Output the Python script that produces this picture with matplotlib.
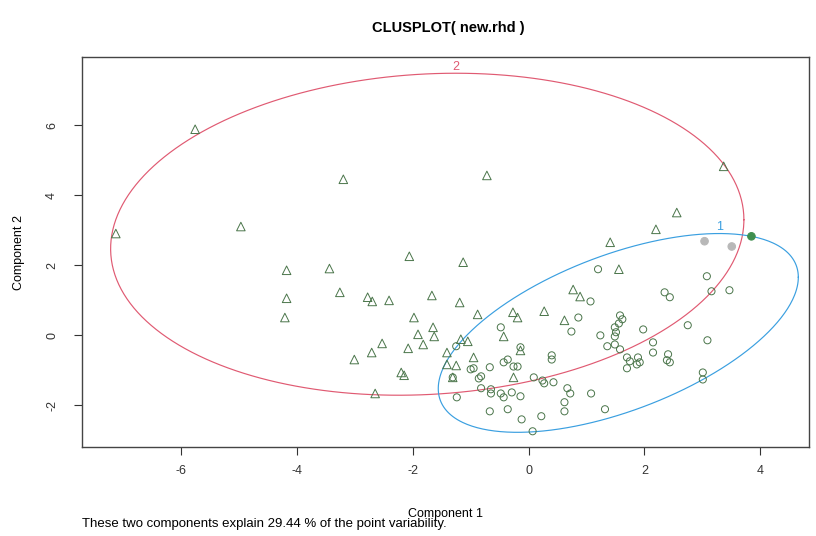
import matplotlib
matplotlib.use("Agg")
import matplotlib.pyplot as plt
import numpy as np
from matplotlib import font_manager

# cluster 2 observations (open triangles)
tri_x = [-7.13, -5.76, -4.97, -3.20, -0.72, 3.37, 2.56, 2.20, 1.41, 1.56,
         -4.18, -3.44, -2.06, -1.13, -4.18, -3.26, -2.78, -2.70, -2.41, -1.67,
         -4.21, -1.98, -1.65, -1.91, -1.63, -1.82, -2.08, -2.53, -2.71, -3.01,
         -2.20, -2.15, -2.65, -1.19, -0.88, -0.27, -0.19, 0.27, 0.62, 0.77,
         0.89, -0.43, -1.17, -1.05, -1.41, -1.41, -1.25, -0.95, -0.14, -0.26,
         -1.31]
tri_y = [2.91, 5.89, 3.11, 4.46, 4.57, 4.83, 3.51, 3.03, 2.66, 1.89,
         1.86, 1.91, 2.26, 2.09, 1.06, 1.23, 1.09, 0.97, 1.00, 1.14,
         0.51, 0.51, 0.23, 0.03, -0.03, -0.26, -0.37, -0.23, -0.49, -0.69,
         -1.06, -1.14, -1.66, 0.94, 0.60, 0.66, 0.51, 0.69, 0.43, 1.31,
         1.11, -0.03, -0.11, -0.17, -0.49, -0.83, -0.86, -0.63, -0.43, -1.20,
         -1.20]

# cluster 1 observations (open circles)
circ_x = [1.20, 1.07, 0.86, 0.74, -0.48, -1.25, -1.00, -0.95, -0.67, -0.43,
          -0.36, -0.26, -0.19, -0.86, -0.82, -1.31, 0.09, 0.24, 0.27, 0.43,
          0.40, 0.40, 0.67, 0.72, 1.08, 0.62, 0.62, 1.32, 0.22, -0.12,
          -0.67, -0.36, -1.24, -0.82, -0.65, -0.65, -0.48, -0.43, -0.29, -0.14,
          0.07, 1.24, 1.49, 1.51, 1.49, 1.58, 1.62, 1.56, 1.36, 1.49,
          1.58, 1.70, 1.75, 1.89, 1.92, 1.87, 1.70, 1.98, 2.15, 2.15,
          2.41, 2.39, 2.44, 2.35, 2.44, 2.75, 3.09, 3.08, 3.16, 3.47,
          3.01, 3.01, -0.14]
circ_y = [1.89, 0.97, 0.51, 0.11, 0.23, -0.31, -0.97, -0.94, -0.91, -0.77,
          -0.69, -0.89, -0.89, -1.23, -1.17, -1.20, -1.20, -1.29, -1.37, -1.34,
          -0.57, -0.69, -1.51, -1.66, -1.66, -1.91, -2.17, -2.11, -2.31, -2.40,
          -2.17, -2.11, -1.77, -1.51, -1.54, -1.66, -1.66, -1.77, -1.63, -1.74,
          -2.74, 0.00, 0.23, 0.09, -0.03, 0.57, 0.46, 0.34, -0.31, -0.26,
          -0.40, -0.63, -0.74, -0.63, -0.77, -0.83, -0.94, 0.17, -0.20, -0.49,
          -0.54, -0.71, -0.77, 1.23, 1.09, 0.29, -0.14, 1.69, 1.26, 1.29,
          -1.06, -1.26, -0.34]

# heavily overplotted spots, drawn solid
dense_x = [3.04, 3.51, 3.85]
dense_y = [2.69, 2.54, 2.83]
dense_col = ["#b8b8b8", "#b8b8b8", "#3f8f4f"]

# cluster ellipses: centre, half extents, correlation
ell_labels = ["2", "1"]
ell_cx = [-1.75, 1.55]
ell_cy = [2.89, 0.07]
ell_ax = [5.47, 3.11]
ell_ay = [4.60, 2.84]
ell_rho = [0.09, 0.56]
ell_colors = ["#e05a72", "#3a9fe0"]

xticks = [-6, -4, -2, 0, 2, 4]
yticks = [-2, 0, 2, 4, 6]

names = {f.name for f in font_manager.fontManager.ttflist}
family = "Liberation Sans Narrow" if "Liberation Sans Narrow" in names else "Liberation Sans"
plt.rcParams["font.family"] = [family, "DejaVu Sans"]

fig = plt.figure(figsize=(8.16, 5.36), dpi=100)
ax = fig.add_axes([0.1001, 0.166, 0.891, 0.7274])

pt_col = "#4a754a"
ax.scatter(tri_x, tri_y, marker="^", s=38, facecolors="none",
           edgecolors=pt_col, linewidths=0.7, zorder=3)
ax.scatter(circ_x, circ_y, marker="o", s=26, facecolors="none",
           edgecolors=pt_col, linewidths=0.7, zorder=3)
ax.scatter(dense_x, dense_y, marker="o", s=30, c=dense_col,
           edgecolors=dense_col, linewidths=0.7, zorder=3)

t = np.linspace(0, 2 * np.pi, 400)
for lab, cx, cy, a, b, r, col in zip(ell_labels, ell_cx, ell_cy, ell_ax,
                                     ell_ay, ell_rho, ell_colors):
    ex = cx + a * np.cos(t)
    ey = cy + b * (r * np.cos(t) + np.sqrt(1 - r ** 2) * np.sin(t))
    ax.plot(ex, ey, color=col, lw=0.85, zorder=2)
    ax.annotate(lab, (cx + a * r, cy + b), xytext=(0, 4.5),
                textcoords="offset points", ha="center", va="center",
                color=col, fontsize=9)

ax.set_xlim(-7.72, 4.84)
ax.set_ylim(-3.19, 7.95)
ax.set_xticks(xticks)
ax.set_yticks(yticks)
ax.set_xticklabels([str(v) for v in xticks])
ax.set_yticklabels([str(v) for v in yticks], rotation=90, va="center")
ax.tick_params(direction="out", length=6, width=0.8, colors="#333333",
               labelsize=9)
ax.tick_params(axis="x", pad=7)
ax.tick_params(axis="y", pad=11)
for sp in ax.spines.values():
    sp.set_color("#444444")
    sp.set_linewidth(1.0)

ax.set_xlabel("Component 1", fontsize=9, labelpad=22)
ax.set_ylabel("Component 2", fontsize=9, labelpad=15)
fig.text(0.55, 0.948, "CLUSPLOT( new.rhd )", ha="center", va="center",
         fontsize=10.5, fontweight="bold")
fig.text(0.1001, 0.022, "These two components explain 29.44 % of the point variability.",
         ha="left", va="center", fontsize=9.5)

fig.savefig("out.png", dpi=100)
